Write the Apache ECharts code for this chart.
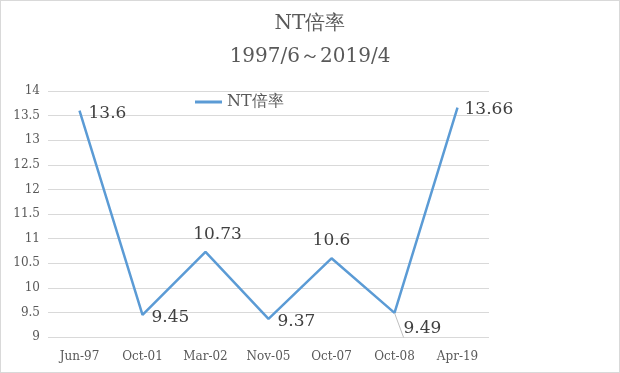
<!DOCTYPE html>
<html><head><meta charset="utf-8">
<script src="https://cdn.jsdelivr.net/npm/echarts@6/dist/echarts.min.js"></script>
<style>html,body{margin:0;padding:0;background:#fff}#c{width:620px;height:373px;box-sizing:border-box;border:1px solid #d9d9d9}</style>
</head><body><div id="c"></div>
<script>
const categories = ['Jun-97','Oct-01','Mar-02','Nov-05','Oct-07','Oct-08','Apr-19'];
const ntRatio = [13.6, 9.45, 10.73, 9.37, 10.6, 9.49, 13.66];
const seriesName = 'NT倍率';
const titleText = 'NT倍率\n1997/6～2019/4';
const labelPlace = [
  {position:'right', offset:[4,3]},
  {position:'right', offset:[4,3]},
  {position:'top', offset:[12,-4]},
  {position:'right', offset:[4,3]},
  {position:'top', offset:[0,-4]},
  {position:'right', offset:[4,16]},
  {position:'right', offset:[2,2]}
];
const font = '"DejaVu Serif","Liberation Serif",serif';
const chart = echarts.init(document.getElementById('c'));
chart.setOption({
  animation:false,
  textStyle:{fontFamily:font},
  title:{text:titleText,left:'center',top:1,textStyle:{fontFamily:font,fontSize:20,fontWeight:'normal',color:'#595959',lineHeight:33}},
  legend:{data:[seriesName],left:189,top:88,itemWidth:27,itemHeight:3,icon:'rect',textStyle:{fontFamily:font,fontSize:16,color:'#595959'},itemGap:4},
  grid:{left:47,right:130,top:90,bottom:35},
  xAxis:{type:'category',data:categories,boundaryGap:true,axisLine:{show:false},axisTick:{show:false},
    axisLabel:{fontFamily:font,fontSize:12,color:'#595959',margin:14}},
  yAxis:{type:'value',min:9,max:14,interval:0.5,axisLine:{show:false},axisTick:{show:false},
    splitLine:{lineStyle:{color:'#d9d9d9'}},axisLabel:{fontFamily:font,fontSize:12,color:'#595959',margin:8}},
  series:[{name:seriesName,type:'line',symbol:'circle',symbolSize:0.1,showSymbol:true,
    lineStyle:{color:'#5b9bd5',width:2.5},itemStyle:{color:'#5b9bd5'},
    label:{show:true,fontFamily:font,fontSize:17,color:'#404040'},
    labelLine:{show:false},
    data:ntRatio.map((v,i)=>({value:v,label:Object.assign({show:true},labelPlace[i]),
      labelLine:{show:i===5,lineStyle:{color:'#bfbfbf',width:1}}}))
  }]
});
</script></body></html>
